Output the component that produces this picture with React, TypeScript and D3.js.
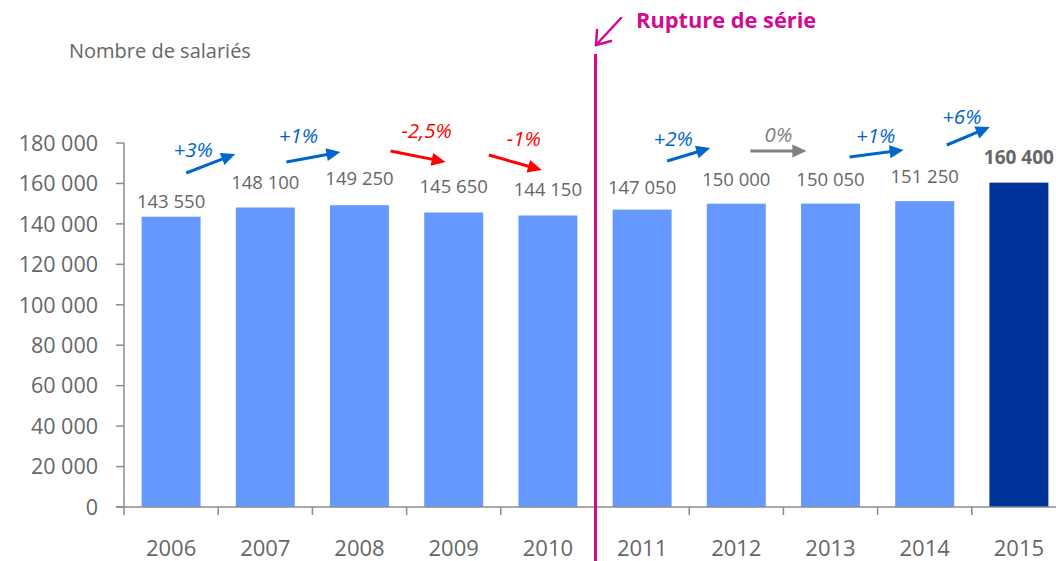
import React from "react";
import * as d3 from "d3";

// ---- data ----
const years = ["2006", "2007", "2008", "2009", "2010", "2011", "2012", "2013", "2014", "2015"];
const salaries = [143550, 148100, 149250, 145650, 144150, 147050, 150000, 150050, 151250, 160400];
const valueLabels = ["143 550", "148 100", "149 250", "145 650", "144 150", "147 050", "150 000", "150 050", "151 250", "160 400"];
const yTicks = [0, 20000, 40000, 60000, 80000, 100000, 120000, 140000, 160000, 180000];
const changeFrom = ["2006", "2007", "2008", "2009", "2011", "2012", "2013", "2014"];
const changeLabels = ["+3%", "+1%", "-2,5%", "-1%", "+2%", "0%", "+1%", "+6%"];
const changeDir = ["up", "up", "down", "down", "up", "flat", "up", "up"];
const breakAfter = "2010";

// ---- layout (pixels, not data) ----
const W = 1056, H = 561;
const X0 = 124, STEP = 94.2;
const Y0 = 507, YTOP = 143;
const labelGap = [9, 19, 20, 19, 19, 16, 18, 18, 18, 19];
// arrow geometry relative to the boundary between the two years: [dx0, y0, dx1, y1, tdx, ty]
const arrowLayout = [
  [-32, 173, 17, 154, -25, 157],
  [-26, 162, 28, 152, -14, 143],
  [-16, 151, 39, 162, 20, 138],
  [-12, 155, 41, 170, 23, 146],
  [-22, 161, 21, 148, -16, 146],
  [-33, 151, 23, 151, -5, 142],
  [-28, 157, 26, 150, -2, 143],
  [-25, 145, 18, 127, -10, 124],
];

const colorsDir: Record<string, string> = { up: "#0066CC", down: "#FF0000", flat: "#808080" };
const MAGENTA = "#D10A93";
const GRAY_TEXT = "#666666";
const AXIS = "#8C8C8C";
const FONT = "'Open Sans', 'Noto Sans', sans-serif";

function Arrow({ x0, y0, x1, y1, color }: { x0: number; y0: number; x1: number; y1: number; color: string }) {
  const len = Math.hypot(x1 - x0, y1 - y0);
  const ux = (x1 - x0) / len, uy = (y1 - y0) / len;
  const hl = 14, hw = 6.5;
  const bx = x1 - ux * hl, by = y1 - uy * hl;
  const px = -uy, py = ux;
  return (
    <g>
      <line x1={x0} y1={y0} x2={bx + ux * 2} y2={by + uy * 2} stroke={color} strokeWidth={3} />
      <polygon points={`${x1},${y1} ${bx + px * hw},${by + py * hw} ${bx - px * hw},${by - py * hw}`} fill={color} />
    </g>
  );
}

export default function App() {
  const x = d3.scaleBand<string>().domain(years).range([X0, X0 + STEP * years.length]).paddingInner(0.374).paddingOuter(0.187);
  const y = d3.scaleLinear().domain([0, 180000]).range([Y0, YTOP]);
  const fmt = (v: number) => d3.format(",")(v).replace(/,/g, " ");
  const step = x.step();
  const rightEdge = (yr: string) => X0 + (years.indexOf(yr) + 1) * step;
  const breakX = rightEdge(breakAfter) + 0.5;

  return (
    <svg width={W} height={H} style={{ position: "absolute", left: 0, top: 0, background: "#fff" }} fontFamily={FONT}>
      <text x={69} y={58} fontSize={20} fill={GRAY_TEXT}>Nombre de salariés</text>

      {/* bars */}
      {years.map((yr, i) => (
        <rect key={yr} x={x(yr)} y={y(salaries[i])} width={x.bandwidth()} height={Y0 - y(salaries[i])}
          fill={i === years.length - 1 ? "#003399" : "#6699FF"} />
      ))}

      {/* y axis */}
      <line x1={X0} x2={X0} y1={YTOP} y2={Y0} stroke={AXIS} strokeWidth={1.5} />
      {yTicks.map((t) => (
        <g key={t}>
          <line x1={X0 - 8} x2={X0} y1={y(t)} y2={y(t)} stroke={AXIS} strokeWidth={1.5} />
          <text x={98} y={y(t)} dy="0.36em" textAnchor="end" fontSize={21.5} fill={GRAY_TEXT}>{fmt(t)}</text>
        </g>
      ))}

      {/* x axis */}
      <line x1={X0 - 8} x2={W} y1={Y0} y2={Y0} stroke={AXIS} strokeWidth={1.5} />
      {years.map((yr, i) => (
        <line key={"t" + yr} x1={X0 + i * step} x2={X0 + i * step} y1={Y0} y2={Y0 + 8} stroke={AXIS} strokeWidth={1.5} />
      ))}
      {years.map((yr) => (
        <text key={"l" + yr} x={(x(yr) as number) + x.bandwidth() / 2} y={556} textAnchor="middle" fontSize={22} fill={GRAY_TEXT}>{yr}</text>
      ))}

      {/* value labels */}
      {years.map((yr, i) => (
        <text key={"v" + yr} x={(x(yr) as number) + x.bandwidth() / 2} y={y(salaries[i]) - labelGap[i]} textAnchor="middle"
          fontSize={i === years.length - 1 ? 19 : 18.5} fontWeight={i === years.length - 1 ? 700 : 400} fill={GRAY_TEXT}>
          {valueLabels[i]}
        </text>
      ))}

      {/* change arrows */}
      {changeFrom.map((yr, i) => {
        const bx = rightEdge(yr);
        const [dx0, y0, dx1, y1, tdx, ty] = arrowLayout[i];
        const c = colorsDir[changeDir[i]];
        return (
          <g key={"a" + yr}>
            <Arrow x0={bx + dx0} y0={y0} x1={bx + dx1} y1={y1} color={c} />
            <text x={bx + tdx} y={ty} textAnchor="middle" fontSize={20.5} fontStyle="italic" fill={c}>{changeLabels[i]}</text>
          </g>
        );
      })}

      {/* series break */}
      <line x1={breakX} x2={breakX} y1={54} y2={H} stroke={MAGENTA} strokeWidth={3} />
      <g stroke={MAGENTA} strokeWidth={2.5} fill="none" strokeLinecap="round">
        <line x1={621} y1={18} x2={596} y2={45} />
        <polyline points="597,30 596,45 611,41" />
      </g>
      <text x={636} y={28} fontSize={21.8} fontWeight={700} fill={MAGENTA}>Rupture de série</text>
    </svg>
  );
}
